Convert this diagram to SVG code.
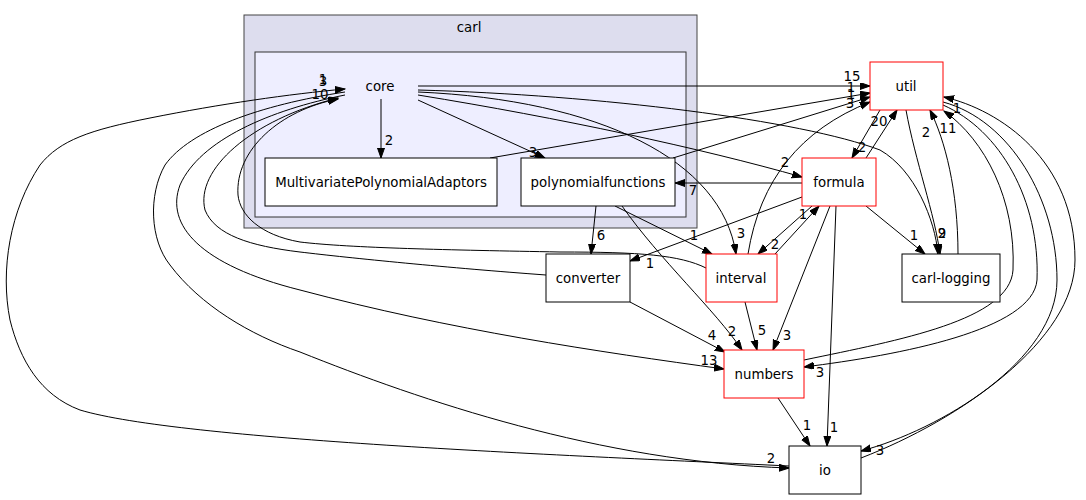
<svg xmlns="http://www.w3.org/2000/svg" width="1086" height="500" viewBox="0 0 1086 500">
<style>
text{font-family:"DejaVu Sans","Liberation Sans",sans-serif;font-size:13.33px;fill:#000}
.n{text-anchor:middle}
.l{text-anchor:middle}
.box{fill:#fff;stroke:#000;stroke-width:1}
.red{fill:#fff;stroke:#ff0000;stroke-width:1}
.e{fill:none;stroke:#000;stroke-width:1;marker-end:url(#ah)}
</style>
<defs>
<marker id="ah" markerUnits="userSpaceOnUse" markerWidth="11" markerHeight="8" refX="10" refY="3.5" orient="auto">
<path d="M0,0 L10,3.5 L0,7 z" fill="#000" stroke="#000" stroke-width="1"/>
</marker>
</defs>
<rect width="1086" height="500" fill="#fff"/>
<g id="cluster-carl">
<rect x="244" y="15" width="453" height="213" fill="#ddddee" stroke="#444" stroke-width="1"/>
<text class="n" x="469" y="32">carl</text>
</g>
<g id="cluster-core">
<rect x="255" y="52" width="431" height="165" fill="#eeeeff" stroke="#333" stroke-width="1"/>
</g>
<g id="connectors">
<path class="e" d="M418,86 L870,86"/>
<text class="l" x="852" y="81">15</text>
<path class="e" d="M381,99 L381,158"/>
<text class="l" x="389" y="145">2</text>
<path class="e" d="M418,100 L545,158"/>
<text class="l" x="533" y="157">3</text>
<path class="e" d="M418,95 C560,118 700,148 802,177"/>
<text class="l" x="785" y="167">2</text>
<path class="e" d="M418,92 C600,100 722,160 736,254"/>
<text class="l" x="741" y="238">3</text>
<path class="e" d="M418,90 C600,95 800,120 880,150 C915,170 935,220 938,254"/>
<text class="l" x="942" y="238">2</text>
<path class="e" d="M906,110 C915,160 935,215 940,254"/>
<text class="l" x="942" y="238">9</text>
<path class="e" d="M958,254 C958,190 945,140 930,110"/>
<text class="l" x="926" y="137">2</text>
<path class="e" d="M490,158 L870,93"/>
<text class="l" x="851" y="92">1</text>
<path class="e" d="M673,158 L870,97"/>
<text class="l" x="851" y="99">1</text>
<path class="e" d="M748,254 C760,180 800,130 870,102"/>
<text class="l" x="850" y="108">3</text>
<path class="e" d="M802,183 L675,183"/>
<text class="l" x="693" y="195">7</text>
<path class="e" d="M866,158 L897,110"/>
<text class="l" x="879" y="126">20</text>
<path class="e" d="M880,110 L852,158"/>
<text class="l" x="862" y="152">2</text>
<path class="e" d="M802,197 L630,261"/>
<text class="l" x="650" y="268">1</text>
<path class="e" d="M812,206 L758,254"/>
<text class="l" x="775" y="249">2</text>
<path class="e" d="M775,254 L819,206"/>
<text class="l" x="803" y="219">1</text>
<path class="e" d="M830,206 L773,350"/>
<text class="l" x="787" y="340">3</text>
<path class="e" d="M836,206 L827,446"/>
<text class="l" x="834" y="432">1</text>
<path class="e" d="M866,206 L925,254"/>
<text class="l" x="914" y="240">1</text>
<path class="e" d="M596,206 L591,254"/>
<text class="l" x="601" y="240">6</text>
<path class="e" d="M615,206 L712,254"/>
<text class="l" x="694" y="240">1</text>
<path class="e" d="M622,206 C660,260 715,310 742,350"/>
<text class="l" x="732" y="336">2</text>
<path class="e" d="M630,302 L725,352"/>
<text class="l" x="712" y="340">4</text>
<path class="e" d="M745,302 L757,350"/>
<text class="l" x="762" y="335">5</text>
<path class="e" d="M778,398 L810,446"/>
<text class="l" x="807" y="430">1</text>
<path class="e" d="M804,360 C900,340 1010,320 1013,270 C1016,200 985,140 944,111"/>
<text class="l" x="948" y="133">11</text>
<path class="e" d="M943,105 C1000,130 1040,200 1037,280 C1033,330 900,355 804,367"/>
<text class="l" x="820" y="377">3</text>
<path class="e" d="M943,102 C1010,120 1057,200 1057,280 C1057,360 940,430 861,451"/>
<text class="l" x="880" y="455">3</text>
<path class="e" d="M861,458 C960,420 1075,340 1075,260 C1075,160 1000,110 944,97"/>
<text class="l" x="957" y="113">1</text>
<path class="e" d="M789,466 C560,455 180,440 80,410 C40,395 20,360 10,320 C0,270 10,210 40,165 C60,140 90,130 150,118 C220,104 290,94 345,89"/>
<text class="l" x="323" y="84">1</text>
<path class="e" d="M345,92 C260,105 190,130 165,165 C148,195 150,240 170,265 C200,305 250,335 300,352 C420,400 600,462 789,468"/>
<text class="l" x="771" y="463">2</text>
<path class="e" d="M345,95 C270,110 200,140 180,185 C165,225 200,265 300,290 C450,330 600,352 724,369"/>
<text class="l" x="709" y="365">13</text>
<path class="e" d="M546,275 C450,268 350,258 300,252 C250,246 215,235 205,210 C195,170 250,120 338,98"/>
<text class="l" x="323" y="86">3</text>
<path class="e" d="M706,268 C680,255 640,252 560,252 C450,250 350,248 300,242 C260,235 240,215 238,195 C235,150 280,110 338,99"/>
<text class="l" x="320" y="99">10</text>
</g>
<g id="node-core">
<text class="n" x="380" y="91">core</text>
</g>
<g id="node-MultivariatePolynomialAdaptors">
<rect class="box" x="265" y="158" width="232" height="48"/>
<text class="n" x="381" y="187">MultivariatePolynomialAdaptors</text>
</g>
<g id="node-polynomialfunctions">
<rect class="box" x="521" y="158" width="154" height="48"/>
<text class="n" x="598" y="187">polynomialfunctions</text>
</g>
<g id="node-util">
<rect class="red" x="870" y="62" width="73" height="48"/>
<text class="n" x="906" y="91">util</text>
</g>
<g id="node-formula">
<rect class="red" x="802" y="158" width="74" height="48"/>
<text class="n" x="839" y="187">formula</text>
</g>
<g id="node-converter">
<rect class="box" x="546" y="254" width="84" height="48"/>
<text class="n" x="588" y="283">converter</text>
</g>
<g id="node-interval">
<rect class="red" x="706" y="254" width="71" height="48"/>
<text class="n" x="741" y="283">interval</text>
</g>
<g id="node-carl-logging">
<rect class="box" x="902" y="254" width="98" height="48"/>
<text class="n" x="951" y="283">carl-logging</text>
</g>
<g id="node-numbers">
<rect class="red" x="724" y="350" width="80" height="48"/>
<text class="n" x="764" y="379">numbers</text>
</g>
<g id="node-io">
<rect class="box" x="789" y="446" width="72" height="48"/>
<text class="n" x="825" y="475">io</text>
</g>
</svg>
